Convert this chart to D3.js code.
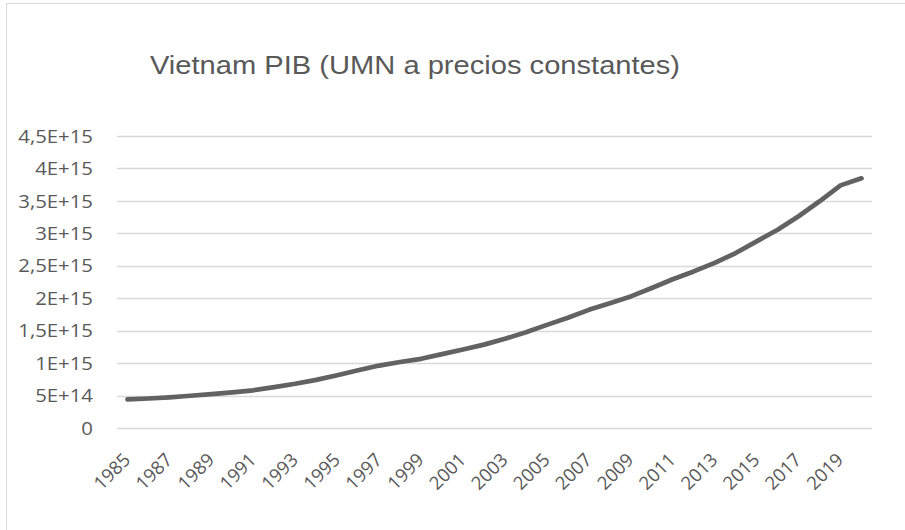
<!DOCTYPE html>
<html>
<head>
<meta charset="utf-8">
<script src="https://cdn.jsdelivr.net/npm/d3@7"></script>
<style>
  html, body { margin: 0; padding: 0; background: #fff; }
  svg { display: block; }
</style>
</head>
<body>
<svg id="chart" width="905" height="530"></svg>
<script>
const chartTitle = "Vietnam PIB (UMN a precios constantes)";
const years = [1985,1986,1987,1988,1989,1990,1991,1992,1993,1994,1995,1996,1997,1998,1999,2000,
  2001,2002,2003,2004,2005,2006,2007,2008,2009,2010,2011,2012,2013,2014,2015,2016,2017,2018,2019,2020];
const gdp = [0.440e15,0.455e15,0.473e15,0.497e15,0.522e15,0.549e15,0.581e15,0.631e15,0.682e15,0.742e15,
  0.813e15,0.889e15,0.962e15,1.017e15,1.066e15,1.138e15,1.209e15,1.285e15,1.374e15,1.477e15,
  1.589e15,1.700e15,1.821e15,1.924e15,2.028e15,2.158e15,2.293e15,2.413e15,2.544e15,2.696e15,
  2.876e15,3.055e15,3.263e15,3.494e15,3.739e15,3.848e15];
const xTickLabels = ["1985","1987","1989","1991","1993","1995","1997","1999","2001","2003","2005",
  "2007","2009","2011","2013","2015","2017","2019"];
const yTickValues = [0,5e14,1e15,1.5e15,2e15,2.5e15,3e15,3.5e15,4e15,4.5e15];
const yTickLabels = ["0","5E+14","1E+15","1,5E+15","2E+15","2,5E+15","3E+15","3,5E+15","4E+15","4,5E+15"];

const data = years.map((y, i) => ({ year: y, value: gdp[i] }));
const svg = d3.select("#chart");

// chart frame (right and bottom edges fall outside the picture)
svg.append("rect")
  .attr("x", 6.5).attr("y", 3.5).attr("width", 920).attr("height", 560)
  .attr("fill", "#fff").attr("stroke", "#d9d9d9").attr("stroke-width", 1);

const plot = { left: 117, right: 872, top: 136, bottom: 428 };

const x = d3.scaleBand().domain(years.map(String)).range([plot.left, plot.right]);
const y = d3.scaleLinear().domain([0, 4.5e15]).range([plot.bottom, plot.top]);

// title
svg.append("text")
  .attr("transform", "translate(415,74) scale(1.12,1)")
  .attr("text-anchor", "middle")
  .attr("font-family", "'Liberation Sans', Arial, sans-serif")
  .attr("font-size", 26)
  .attr("fill", "#595959")
  .text(chartTitle);

// gridlines
svg.append("g").selectAll("line").data(yTickValues).join("line")
  .attr("x1", plot.left).attr("x2", plot.right)
  .attr("y1", d => Math.round(y(d)) + 0.5).attr("y2", d => Math.round(y(d)) + 0.5)
  .attr("stroke", "#d9d9d9").attr("stroke-width", 1.3);

// y labels
svg.append("g").selectAll("text").data(yTickValues).join("text")
  .attr("transform", d => `translate(93,${y(d)}) scale(1.1,1)`)
  .attr("dy", "0.36em")
  .attr("text-anchor", "end")
  .attr("font-family", "'Open Sans', sans-serif")
  .attr("font-size", 18.5)
  .attr("fill", "#595959")
  .text((d, i) => yTickLabels[i]);

// x labels
svg.append("g").selectAll("text").data(xTickLabels).join("text")
  .attr("transform", d => `translate(${x(d) + x.bandwidth() / 2 + 4},461) rotate(-45)`)
  .attr("text-anchor", "end")
  .attr("font-family", "'Open Sans', sans-serif")
  .attr("font-size", 18.5)
  .attr("fill", "#595959")
  .text(d => d);

// line
const line = d3.line()
  .x(d => x(String(d.year)) + x.bandwidth() / 2)
  .y(d => y(d.value));

svg.append("path")
  .datum(data)
  .attr("d", line)
  .attr("fill", "none")
  .attr("stroke", "#626262")
  .attr("stroke-width", 4.7)
  .attr("stroke-linejoin", "round")
  .attr("stroke-linecap", "round");
</script>
</body>
</html>
